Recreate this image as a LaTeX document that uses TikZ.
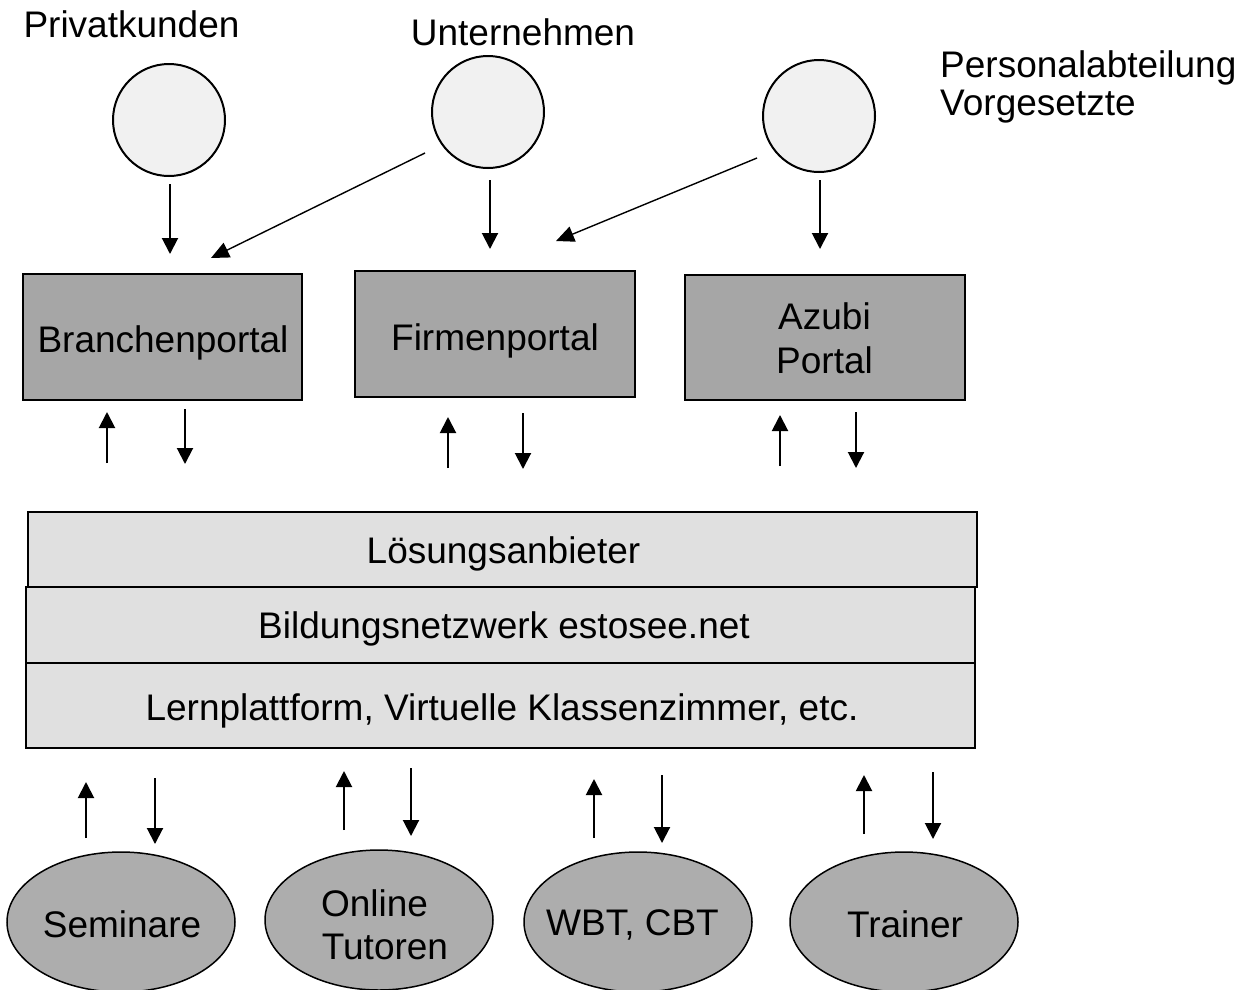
\documentclass[tikz,border=0pt]{standalone}
\usepackage{fontspec}
\setmainfont{Liberation Sans}
\usetikzlibrary{arrows.meta,shapes.geometric}
\definecolor{circfill}{RGB}{241,241,241}
\definecolor{boxfill}{RGB}{166,166,166}
\definecolor{layerfill}{RGB}{224,224,224}
\definecolor{ellfill}{RGB}{173,173,173}
\tikzset{
  lbl/.style={font=\fontsize{37}{41}\selectfont, inner sep=0pt, anchor=base},
  lblw/.style={font=\fontsize{37}{41}\selectfont, inner sep=0pt, anchor=base west},
  usercirc/.style={circle, draw, line width=2pt, fill=circfill, minimum size=112pt, inner sep=0pt},
  portal/.style={rectangle, draw, line width=2pt, fill=boxfill, inner sep=0pt},
  layer/.style={rectangle, draw, line width=2pt, fill=layerfill, inner sep=0pt},
  resource/.style={ellipse, draw, line width=1.5pt, fill=ellfill, minimum width=228pt, minimum height=140pt, inner sep=0pt},
  arr/.style={line width=2pt, -{Triangle[width=16pt,length=16pt]}},
  diag/.style={line width=1.4pt, -{Triangle[width=16pt,length=18pt]}}
}
\begin{document}
\begin{tikzpicture}[x=1pt,y=-1pt]
\useasboundingbox (0,0) rectangle (1244,989);
% user labels
\node[lbl] (lpriv) at (131.5,37) {Privatkunden};
\node[lbl] (lunt) at (523,45) {Unternehmen};
\node[lblw] (lpers1) at (940,77) {Personalabteilung};
\node[lblw] (lpers2) at (940,115) {Vorgesetzte};
% circles
\node[usercirc] (c1) at (169,120) {};
\node[usercirc] (c2) at (488,112) {};
\node[usercirc] (c3) at (819,116) {};
% portals
\node[portal, minimum width=279pt, minimum height=126pt] (p1) at (162.5,336.5) {};
\node[portal, minimum width=280pt, minimum height=126pt] (p2) at (495,334) {};
\node[portal, minimum width=280pt, minimum height=125pt] (p3) at (825,337.5) {};
\node[lbl] (tp1) at (163,352) {Branchenportal};
\node[lbl] (tp2) at (495,350) {Firmenportal};
\node[lbl] (tp3a) at (824.5,329) {Azubi};
\node[lbl] (tp3b) at (824.5,373) {Portal};
% layers
\node[layer, minimum width=949pt, minimum height=75pt] (l1) at (502.5,549.5) {};
\node[layer, minimum width=949pt, minimum height=76pt] (l2) at (500.5,625) {};
\node[layer, minimum width=949pt, minimum height=85pt] (l3) at (500.5,705.5) {};
\node[lbl] (tl1) at (503.5,563) {Lösungsanbieter};
\node[lbl] (tl2) at (504,638) {Bildungsnetzwerk estosee.net};
\node[lbl] (tl3) at (502,720) {Lernplattform, Virtuelle Klassenzimmer, etc.};
% resources
\node[resource] (r1) at (121,922) {};
\node[resource] (r2) at (379,920) {};
\node[resource] (r3) at (638,922) {};
\node[resource] (r4) at (904,922) {};
\node[lbl] (tr1) at (122,937) {Seminare};
\node[lbl] (tr2a) at (374.5,916) {Online};
\node[lbl] (tr2b) at (385,959) {Tutoren};
\node[lbl] (tr3) at (632.5,935) {WBT, CBT};
\node[lbl] (tr4) at (905,937) {Trainer};
% coordinates for free arrow ends
\coordinate (a1s) at (170,184); \coordinate (a1e) at (170,254);
\coordinate (a2s) at (425,153); \coordinate (a2e) at (211,258);
\coordinate (a3s) at (490,180); \coordinate (a3e) at (490,249);
\coordinate (a4s) at (757,158); \coordinate (a4e) at (556,241);
\coordinate (a5s) at (820,180); \coordinate (a5e) at (820,249);
\draw[arr] (a1s) -- (a1e);
\draw[diag] (a2s) -- (a2e);
\draw[arr] (a3s) -- (a3e);
\draw[diag] (a4s) -- (a4e);
\draw[arr] (a5s) -- (a5e);
% portal <-> layer
\coordinate (u1s) at (107,463); \coordinate (u1e) at (107,412);
\coordinate (d1s) at (185,409); \coordinate (d1e) at (185,464);
\coordinate (u2s) at (448,468); \coordinate (u2e) at (448,417);
\coordinate (d2s) at (523,413); \coordinate (d2e) at (523,469);
\coordinate (u3s) at (780,466); \coordinate (u3e) at (780,415);
\coordinate (d3s) at (856,412); \coordinate (d3e) at (856,468);
\draw[arr] (u1s) -- (u1e);
\draw[arr] (d1s) -- (d1e);
\draw[arr] (u2s) -- (u2e);
\draw[arr] (d2s) -- (d2e);
\draw[arr] (u3s) -- (u3e);
\draw[arr] (d3s) -- (d3e);
% layer <-> resources
\coordinate (v1s) at (86,838); \coordinate (v1e) at (86,782);
\coordinate (w1s) at (155,778); \coordinate (w1e) at (155,844);
\coordinate (v2s) at (344,830); \coordinate (v2e) at (344,771);
\coordinate (w2s) at (411,768); \coordinate (w2e) at (411,836);
\coordinate (v3s) at (594,838); \coordinate (v3e) at (594,779);
\coordinate (w3s) at (662,775); \coordinate (w3e) at (662,843);
\coordinate (v4s) at (864,834); \coordinate (v4e) at (864,775);
\coordinate (w4s) at (933,772); \coordinate (w4e) at (933,839);
\draw[arr] (v1s) -- (v1e);
\draw[arr] (w1s) -- (w1e);
\draw[arr] (v2s) -- (v2e);
\draw[arr] (w2s) -- (w2e);
\draw[arr] (v3s) -- (v3e);
\draw[arr] (w3s) -- (w3e);
\draw[arr] (v4s) -- (v4e);
\draw[arr] (w4s) -- (w4e);
\end{tikzpicture}
\end{document}
